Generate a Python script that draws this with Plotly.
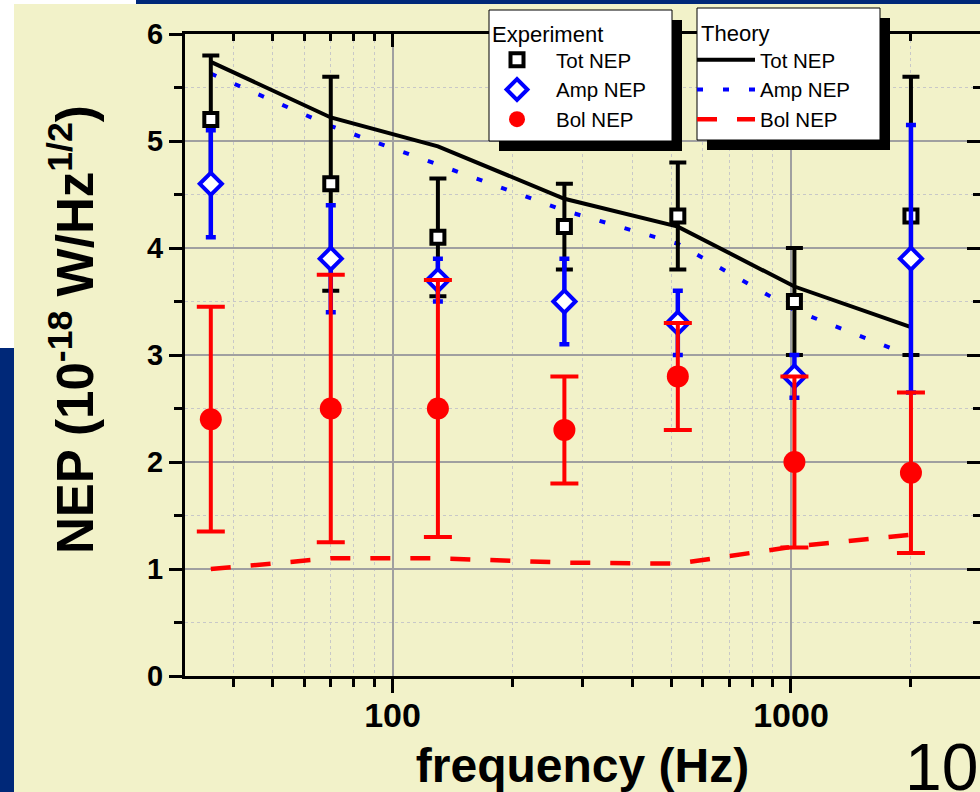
import numpy as np
import plotly.graph_objects as go

# ---------------- data ----------------
freq = [35, 70, 130, 270, 520, 1020, 2000]

tot_exp = [5.2, 4.6, 4.1, 4.2, 4.3, 3.5, 4.3]
tot_lo = [4.6, 3.6, 3.55, 3.8, 3.8, 3.0, 3.0]
tot_hi = [5.8, 5.6, 4.65, 4.6, 4.8, 4.0, 5.6]

amp_exp = [4.6, 3.9, 3.7, 3.5, 3.3, 2.8, 3.9]
amp_lo = [4.1, 3.4, 3.5, 3.1, 3.0, 2.6, 2.65]
amp_hi = [5.1, 4.4, 3.9, 3.9, 3.6, 3.0, 5.15]

bol_exp = [2.4, 2.5, 2.5, 2.3, 2.8, 2.0, 1.9]
bol_lo = [1.35, 1.25, 1.3, 1.8, 2.3, 1.2, 1.15]
bol_hi = [3.45, 3.75, 3.7, 2.8, 3.3, 2.8, 2.65]

tot_th = [5.74, 5.22, 4.95, 4.46, 4.2, 3.64, 3.26]
amp_th = [5.63, 5.14, 4.78, 4.35, 4.04, 3.42, 2.99]
bol_th = [1.0, 1.1, 1.1, 1.06, 1.05, 1.21, 1.32]

x_major = [100, 1000]
x_major_text = ["100", "1000"]
x_minor = [30, 40, 50, 60, 70, 80, 90, 200, 300, 400, 500, 600, 700, 800, 900, 2000, 3000]
y_ticks = [0, 1, 2, 3, 4, 5, 6]

# ---------------- styling ----------------
W, H = 980, 792
ML, MR, MT, MB = 185, 0, 34, 116
BEIGE = "#F2F2C9"
NAVY = "#002878"
FONT = "Liberation Sans, Arial, sans-serif"
X_RANGE = [1.4793, 3.4743]
LEG_FONT = 20.5


def px(x):
    return (x - ML) / (W - ML - MR)


def py(y):
    return (H - MB - y) / (H - MT - MB)


def err(v, lo, hi):
    v, lo, hi = np.array(v), np.array(lo), np.array(hi)
    return (hi - v).tolist(), (v - lo).tolist()


fig = go.Figure()

# theory lines
fig.add_trace(go.Scatter(x=freq, y=tot_th, mode="lines", name="Tot NEP",
                         line=dict(color="black", width=4), legend="legend2"))
fig.add_trace(go.Scatter(x=freq, y=amp_th, mode="lines", name="Amp NEP",
                         line=dict(color="#0000FF", width=4, dash="6px,20px"), legend="legend2"))
fig.add_trace(go.Scatter(x=freq, y=bol_th, mode="lines", name="Bol NEP",
                         line=dict(color="#FF0000", width=4.5, dash="20px,20px"), legend="legend2"))

# experiment
up, dn = err(tot_exp, tot_lo, tot_hi)
fig.add_trace(go.Scatter(x=freq, y=tot_exp, mode="markers", name="Tot NEP",
                         marker=dict(symbol="square", size=13, color="white",
                                     line=dict(color="black", width=4)),
                         error_y=dict(type="data", symmetric=False, array=up, arrayminus=dn,
                                      color="black", thickness=4, width=8.5),
                         legend="legend"))
up, dn = err(amp_exp, amp_lo, amp_hi)
fig.add_trace(go.Scatter(x=freq, y=amp_exp, mode="markers", name="Amp NEP",
                         marker=dict(symbol="diamond", size=17, color="white",
                                     line=dict(color="#0000FF", width=4)),
                         error_y=dict(type="data", symmetric=False, array=up, arrayminus=dn,
                                      color="#0000FF", thickness=4.5, width=5),
                         legend="legend"))
up, dn = err(bol_exp, bol_lo, bol_hi)
fig.add_trace(go.Scatter(x=freq, y=bol_exp, mode="markers", name="Bol NEP",
                         marker=dict(symbol="circle", size=22, color="#FF0000",
                                     line=dict(width=0)),
                         error_y=dict(type="data", symmetric=False, array=up, arrayminus=dn,
                                      color="#FF0000", thickness=4, width=14),
                         legend="legend"))

# dummy trace for mirrored (top / right) axes
fig.add_trace(go.Scatter(x=[], y=[], xaxis="x2", yaxis="y2", showlegend=False,
                         hoverinfo="skip"))

fig.update_layout(
    width=W, height=H,
    margin=dict(l=ML, r=MR, t=MT, b=MB, pad=0),
    paper_bgcolor=BEIGE, plot_bgcolor=BEIGE,
    font=dict(family=FONT, color="black"),
    xaxis=dict(
        type="log", range=X_RANGE,
        tickmode="array", tickvals=x_major, ticktext=x_major_text,
        ticks="outside", ticklen=14, tickwidth=3, tickcolor="black",
        ticklabelstandoff=-7,
        tickfont=dict(family=FONT, size=34, color="black", weight="bold"),
        showline=True, linewidth=3, linecolor="black",
        showgrid=True, gridcolor="#A0A0A0", gridwidth=1.5,
        minor=dict(tickmode="array", tickvals=x_minor, ticks="outside", ticklen=8,
                   tickwidth=3, tickcolor="black", showgrid=True,
                   gridcolor="#C8C8C8", gridwidth=1, griddash="dot"),
        zeroline=False,
        title=dict(text="<b>frequency (Hz)</b>", font=dict(family=FONT, size=48, color="black"),
                   standoff=20),
    ),
    yaxis=dict(
        range=[0, 6], tickmode="array", tickvals=y_ticks,
        ticks="outside", ticklen=13, tickwidth=3, tickcolor="black",
        tickfont=dict(family=FONT, size=29, color="black", weight="bold"),
        showline=True, linewidth=3, linecolor="black",
        showgrid=True, gridcolor="#A0A0A0", gridwidth=1.5,
        minor=dict(dtick=0.5, ticks="outside", ticklen=8, tickwidth=3, tickcolor="black",
                   showgrid=True, gridcolor="#C8C8C8", gridwidth=1, griddash="dot"),
        zeroline=False,
    ),
    xaxis2=dict(
        type="log", range=X_RANGE, overlaying="x", side="top", anchor="y2",
        tickmode="array", tickvals=x_major, showticklabels=False,
        ticks="inside", ticklen=13, tickwidth=3, tickcolor="black",
        showline=True, linewidth=3, linecolor="black", showgrid=False,
        minor=dict(tickmode="array", tickvals=x_minor, ticks="inside", ticklen=7,
                   tickwidth=3, tickcolor="black", showgrid=False),
        zeroline=False,
    ),
    yaxis2=dict(
        range=[0, 6], overlaying="y", side="right", anchor="x2",
        tickmode="array", tickvals=y_ticks, showticklabels=False,
        ticks="inside", ticklen=13, tickwidth=3, tickcolor="black",
        showline=False, showgrid=False,
        minor=dict(dtick=0.5, ticks="inside", ticklen=7, tickwidth=3, tickcolor="black",
                   showgrid=False),
        zeroline=False,
    ),
    legend=dict(x=px(478), y=py(40), xanchor="left", yanchor="top",
                bgcolor="rgba(0,0,0,0)", borderwidth=0,
                font=dict(family=FONT, size=LEG_FONT, color="black"),
                itemwidth=68, tracegroupgap=0),
    legend2=dict(x=px(692), y=py(40), xanchor="left", yanchor="top",
                 bgcolor="rgba(0,0,0,0)", borderwidth=0,
                 font=dict(family=FONT, size=LEG_FONT, color="black"),
                 itemwidth=58, tracegroupgap=0),
    showlegend=True,
)

shapes = []
# slide background pieces
for (x0, x1, y0, y1, c) in [(0, 14, 348, 800, NAVY), (0, 14, -5, 348, "white"),
                            (0, 136, -5, 4, "white"), (136, 990, -5, 4, NAVY)]:
    shapes.append(dict(type="rect", xref="paper", yref="paper", layer="below",
                       x0=px(x0), x1=px(x1), y0=py(y1), y1=py(y0),
                       fillcolor=c, line=dict(width=0)))
# legend boxes with drop shadows
for (x0, x1, y0, y1) in [(489, 672, 10, 141), (697, 880, 8, 140)]:
    shapes.append(dict(type="rect", xref="paper", yref="paper", layer="above",
                       x0=px(x0 + 10), x1=px(x1 + 10), y0=py(y1 + 10), y1=py(y0 + 10),
                       fillcolor="black", line=dict(width=0)))
    shapes.append(dict(type="rect", xref="paper", yref="paper", layer="above",
                       x0=px(x0), x1=px(x1), y0=py(y1), y1=py(y0),
                       fillcolor="white", line=dict(color="black", width=1)))
fig.update_layout(shapes=shapes)

annotations = [
    dict(text="Experiment", x=px(490), y=py(34), xref="paper", yref="paper",
         xanchor="left", yanchor="middle", showarrow=False,
         font=dict(family=FONT, size=22, color="black")),
    dict(text="Theory", x=px(699), y=py(33), xref="paper", yref="paper",
         xanchor="left", yanchor="middle", showarrow=False,
         font=dict(family=FONT, size=22, color="black")),
    dict(text="<b>NEP (10<sup>-18</sup> W/Hz<sup>1/2</sup>)</b>", textangle=-90,
         x=px(72), y=py(330), xref="paper", yref="paper",
         xanchor="center", yanchor="middle", showarrow=False,
         font=dict(family=FONT, size=51, color="black")),
    dict(text="10", x=px(903), y=py(806), xref="paper", yref="paper",
         xanchor="left", yanchor="bottom", showarrow=False,
         font=dict(family=FONT, size=66, color="black")),
]
fig.update_layout(annotations=annotations)

fig.write_html("out.html")
